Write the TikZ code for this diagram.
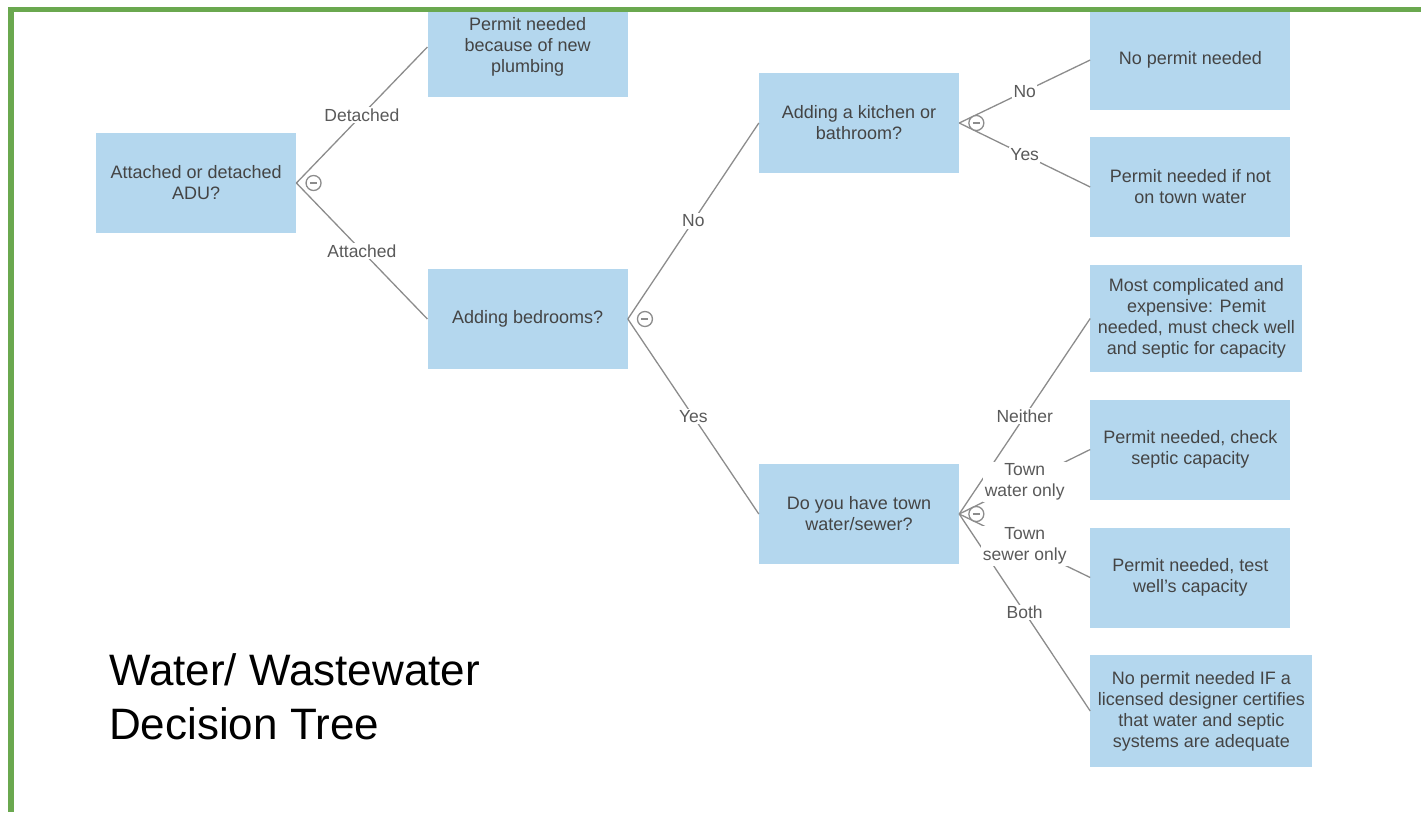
\documentclass[tikz,border=0pt]{standalone}
\usepackage{fontspec}
\setmainfont{Liberation Sans}
\usetikzlibrary{positioning}
\definecolor{boxblue}{RGB}{180,215,238}
\definecolor{framegreen}{RGB}{106,168,79}
\definecolor{linegray}{RGB}{140,140,140}
\definecolor{textgray}{RGB}{68,68,68}
\definecolor{labelgray}{RGB}{90,90,90}

\begin{document}
\begin{tikzpicture}[x=1pt, y=-1pt, node distance=131pt,
  box/.style={rectangle, fill=boxblue, minimum width=200pt, minimum height=100pt, inner sep=0pt, anchor=west, align=center, text=textgray, font=\fontsize{18}{21}\selectfont},
  branch/.style={draw=linegray, line width=1.3pt},
  choice/.style={fill=white, text=labelgray, inner sep=1.5pt, align=center, font=\fontsize{17.5}{21}\selectfont},
  toggle/.style={circle, draw=linegray, fill=white, line width=1.3pt, minimum size=15pt, inner sep=0pt,
    path picture={\draw[linegray, line width=1.3pt] ([xshift=-3.5pt]path picture bounding box.center) -- ([xshift=3.5pt]path picture bounding box.center);}}]

		\useasboundingbox (0,0) rectangle (1421,812);

		\node[box] (adu) at (96,183) {Attached or detached\\ADU?};
		\node[box] (plumb) [right=of adu, yshift=136pt] {Permit needed\\because of new\\plumbing};
		\node[box] (bed) [right=of adu, yshift=-136pt] {Adding bedrooms?};
		\node[box] (kitchen) [right=of bed, yshift=196pt] {Adding a kitchen or\\bathroom?};
		\node[box] (town) [right=of bed, yshift=-195pt] {Do you have town\\water/sewer?};
		\node[box] (nopermit) [right=of kitchen, yshift=63pt] {No permit needed};
		\node[box] (ifnot) [right=of kitchen, yshift=-64pt] {Permit needed if not\\on town water};
		\node[box, minimum width=212pt, minimum height=107pt] (complex) [right=of town, yshift=195.5pt] {Most complicated and\\expensive: Pemit\\needed, must check well\\and septic for capacity};
		\node[box] (septic) [right=of town, yshift=64.5pt] {Permit needed, check\\septic capacity};
		\node[box] (well) [right=of town, yshift=-63.5pt] {Permit needed, test\\well's capacity};
		\node[box, minimum width=222pt, minimum height=112pt] (designer) [right=of town, yshift=-197pt] {No permit needed IF a\\licensed designer certifies\\that water and septic\\systems are adequate};

		\draw[branch] (adu.east) -- node[choice] {Detached} (plumb.west);
		\draw[branch] (adu.east) -- node[choice] {Attached} (bed.west);
		\draw[branch] (bed.east) -- node[choice] {No} (kitchen.west);
		\draw[branch] (bed.east) -- node[choice] {Yes} (town.west);
		\draw[branch] (kitchen.east) -- node[choice] {No} (nopermit.west);
		\draw[branch] (kitchen.east) -- node[choice] {Yes} (ifnot.west);
		\draw[branch] (town.east) -- node[choice] {Neither} (complex.west);
		\draw[branch] (town.east) -- node[choice] {Both} (designer.west);
		\draw[branch] (town.east) -- node[choice] {Town\\water only} (septic.west);
		\draw[branch] (town.east) -- node[choice] {Town\\sewer only} (well.west);

		\node[toggle] (t1) [right=9pt of adu] {};
		\node[toggle] (t2) [right=9pt of bed] {};
		\node[toggle] (t3) [right=9pt of kitchen] {};
		\node[toggle] (t4) [right=9pt of town] {};

		\node[anchor=west, align=left, inner sep=0pt, font=\fontsize{44}{54}\selectfont] (title) at (109,697) {Water/ Wastewater\\Decision Tree};

		% frame
		\fill[white] (0,0) rectangle (1421,6.5);
		\fill[framegreen] (8,6.5) rectangle (1421,12);
		\fill[framegreen] (8,6.5) rectangle (14,812);

\end{tikzpicture}
\end{document}
